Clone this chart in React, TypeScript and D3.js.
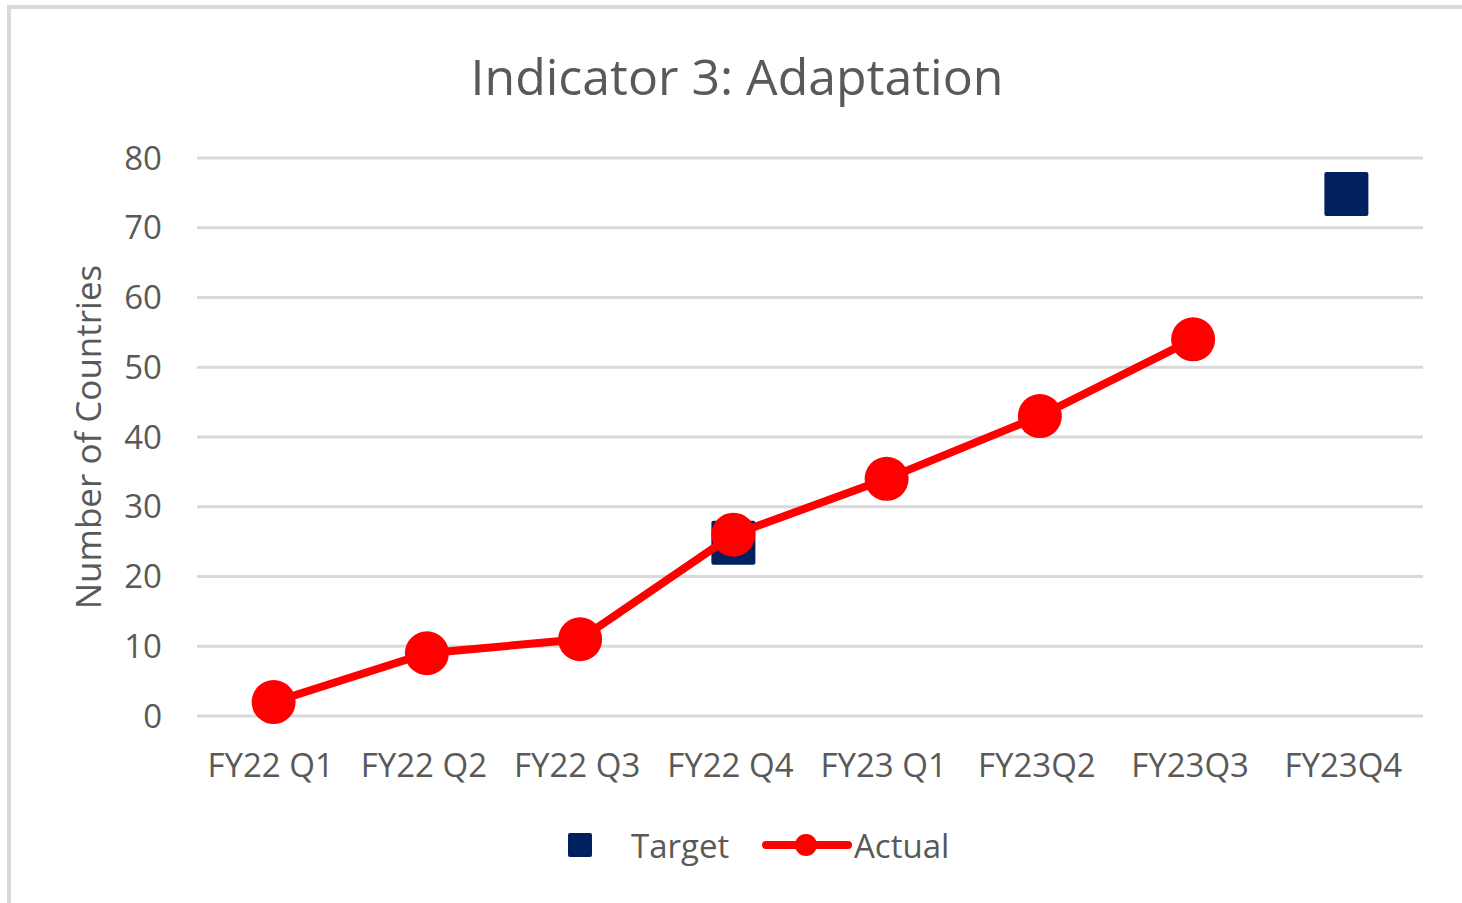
import React from 'react';
import * as d3 from 'd3';

const categories = ['FY22 Q1', 'FY22 Q2', 'FY22 Q3', 'FY22 Q4', 'FY23 Q1', 'FY23Q2', 'FY23Q3', 'FY23Q4'];
const actual: (number | null)[] = [2, 9, 11, 26, 34, 43, 54, null];
const target: (number | null)[] = [null, null, null, 25, null, null, null, 75];
const yTicks = [0, 10, 20, 30, 40, 50, 60, 70, 80];

const W = 1462;
const H = 903;
const FONT = '"Open Sans", "Noto Sans", sans-serif';
const TEXT = '#595959';

const App = () => {
  const x = d3.scaleBand<string>().domain(categories).range([197, 1423]);
  const y = d3.scaleLinear().domain([0, 80]).range([716, 158]);
  const cx = (c: string) => (x(c) ?? 0) + x.bandwidth() / 2;

  const line = d3.line<[string, number | null]>()
    .defined(d => d[1] != null)
    .x(d => cx(d[0]))
    .y(d => y(d[1] as number));
  const actualPts = categories.map((c, i) => [c, actual[i]] as [string, number | null]);

  return (
    <svg width={W} height={H} style={{ position: 'absolute', left: 0, top: 0, background: '#fff' }}>
      <rect x={9} y={7} width={W + 20} height={H + 20} fill="#fff" stroke="#d9d9d9" strokeWidth={4} />
      <text x={737} y={95} textAnchor="middle" fontFamily={FONT} fontSize={50} fill={TEXT}>
        Indicator 3: Adaptation
      </text>

      {yTicks.map(t => (
        <g key={t}>
          <line x1={197} x2={1423} y1={y(t)} y2={y(t)} stroke="#d9d9d9" strokeWidth={3} />
          <text x={162} y={y(t)} dy="0.35em" textAnchor="end" fontFamily={FONT} fontSize={33} fill={TEXT}>{t}</text>
        </g>
      ))}

      {categories.map(c => (
        <text key={c} x={cx(c) - 3} y={777} textAnchor="middle" fontFamily={FONT} fontSize={33} fill={TEXT}>{c}</text>
      ))}

      <text transform="translate(101,437) rotate(-90)" textAnchor="middle" fontFamily={FONT} fontSize={35} fill={TEXT}>
        Number of Countries
      </text>

      {categories.map((c, i) => target[i] == null ? null : (
        <rect key={'t' + c} x={cx(c) - 22} y={y(target[i] as number) - 21} width={44} height={44} rx={2} fill="#002060" />
      ))}

      <path d={line(actualPts) ?? ''} fill="none" stroke="#ff0000" strokeWidth={8} strokeLinecap="round" />
      {categories.map((c, i) => actual[i] == null ? null : (
        <circle key={'a' + c} cx={cx(c)} cy={y(actual[i] as number)} r={22} fill="#ff0000" />
      ))}

      <g>
        <rect x={568} y={833} width={24} height={24} rx={2} fill="#002060" />
        <text x={631} y={858} fontFamily={FONT} fontSize={33} fill={TEXT}>Target</text>
        <line x1={766} x2={848} y1={845} y2={845} stroke="#ff0000" strokeWidth={8} strokeLinecap="round" />
        <circle cx={806} cy={845} r={11} fill="#ff0000" />
        <text x={854} y={858} fontFamily={FONT} fontSize={33} fill={TEXT}>Actual</text>
      </g>
    </svg>
  );
};

export default App;
